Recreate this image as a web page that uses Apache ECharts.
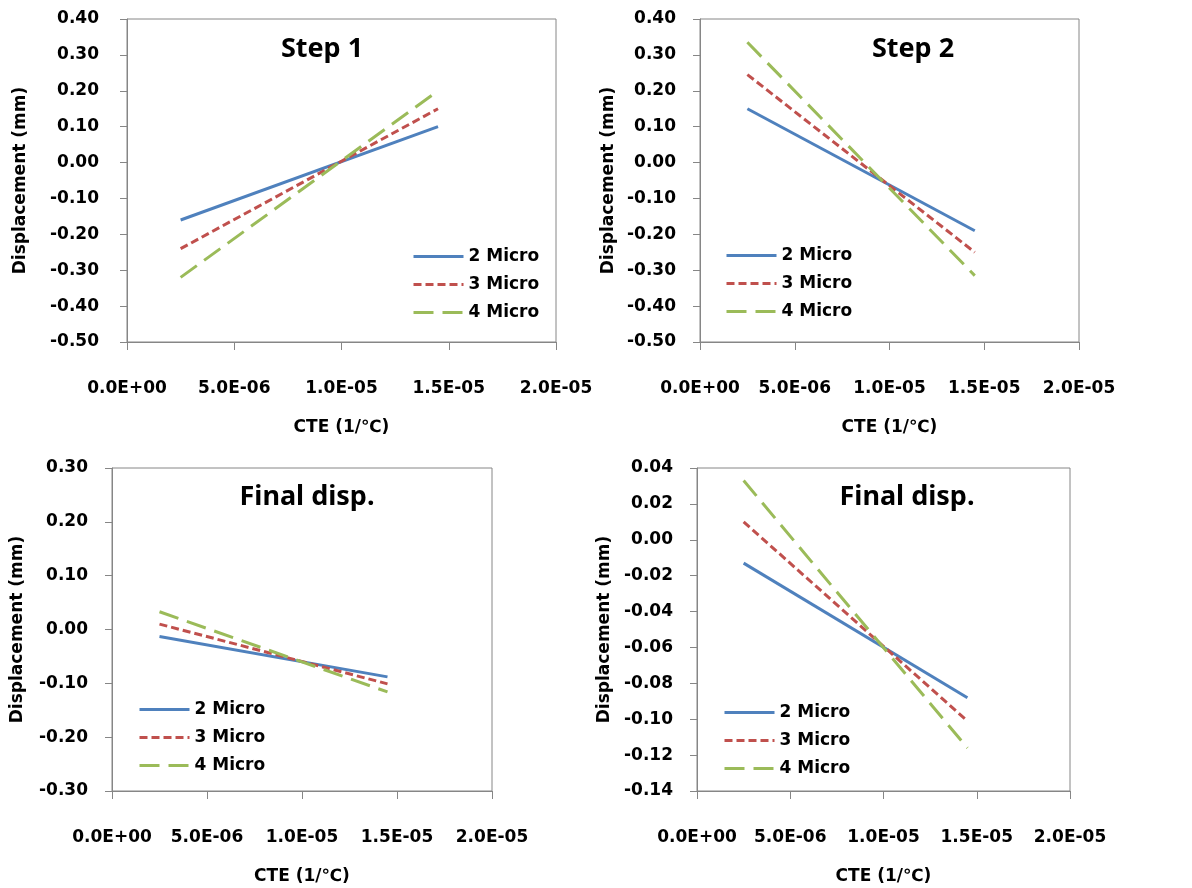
<!DOCTYPE html>
<html>
<head>
<meta charset="utf-8">
<script src="https://cdn.jsdelivr.net/npm/echarts@6/dist/echarts.min.js"></script>
<style>
  html, body { margin: 0; padding: 0; background: #fff; }
  #chart { width: 1192px; height: 888px; }
</style>
</head>
<body>
<div id="chart"></div>
<script>
// CTE values (1/°C) where each line was sampled
var cte = [2.5e-6, 1.45e-5];
var seriesNames = ['2 Micro', '3 Micro', '4 Micro'];

// Step 1 displacement (mm)
var step1Micro2 = [-0.16, 0.10];
var step1Micro3 = [-0.24, 0.15];
var step1Micro4 = [-0.32, 0.20];

// Step 2 displacement (mm)
var step2Micro2 = [0.15, -0.19];
var step2Micro3 = [0.245, -0.25];
var step2Micro4 = [0.335, -0.315];

// Final displacement (mm), shown twice with different y scales
var finalMicro2 = [-0.013, -0.088];
var finalMicro3 = [0.010, -0.101];
var finalMicro4 = [0.033, -0.116];

var panelTitles = ['Step 1', 'Step 2', 'Final disp.', 'Final disp.'];

var FONT = 'DejaVu Sans';
var TITLE_FONT = 'Noto Sans';
var colors = ['#4F81BD', '#C0504D', '#9BBB59'];
var dashes = ['solid', [8, 4], [20, 9]];

var grids = [
    { left: 127, top: 19, width: 429, height: 323 },
    { left: 700, top: 19, width: 379, height: 323 },
    { left: 112, top: 468, width: 380, height: 323 },
    { left: 697, top: 468, width: 373, height: 323 }
];
var yRanges = [
    { min: -0.5, max: 0.4, interval: 0.1, nameGap: 98, margin: 28 },
    { min: -0.5, max: 0.4, interval: 0.1, nameGap: 83, margin: 24 },
    { min: -0.3, max: 0.3, interval: 0.1, nameGap: 86, margin: 24 },
    { min: -0.14, max: 0.04, interval: 0.02, nameGap: 84, margin: 24 }
];
var titlePos = [[317, 31], [908, 31], [302, 479], [902, 479]];
var legendPos = [[407, 243], [720, 242], [133, 696], [718, 699]];

function sciLabel(v) {
    if (Math.abs(v) < 1e-12) return '0.0E+00';
    var s = v.toExponential(1).split('e');
    var exp = parseInt(s[1], 10);
    var sign = exp < 0 ? '-' : '+';
    var e = Math.abs(exp);
    return s[0] + 'E' + sign + (e < 10 ? '0' + e : e);
}

function pairs(vals) {
    return cte.map(function (x, i) { return [x, vals[i]]; });
}

var panelData = [
    [step1Micro2, step1Micro3, step1Micro4],
    [step2Micro2, step2Micro3, step2Micro4],
    [finalMicro2, finalMicro3, finalMicro4],
    [finalMicro2, finalMicro3, finalMicro4]
];

var axisColor = '#868686';
var xAxes = [], yAxes = [], series = [], titles = [], legends = [];
var labelText = { fontFamily: FONT, fontSize: 17, fontWeight: 'bold', color: '#000' };

grids.forEach(function (g, i) {
    g.show = true;
    g.borderColor = axisColor;
    g.borderWidth = 1;
    g.backgroundColor = '#fff';
    g.outerBoundsMode = 'none';

    xAxes.push({
        type: 'value', gridIndex: i,
        min: 0, max: 2e-5, interval: 5e-6,
        name: 'CTE (1/\u2103)', nameLocation: 'middle', nameGap: 77,
        nameTextStyle: labelText,
        axisLine: { show: true, onZero: false, lineStyle: { color: axisColor, width: 1 } },
        axisTick: { show: true, inside: false, length: 8, lineStyle: { color: axisColor } },
        axisLabel: Object.assign({ margin: 38, formatter: sciLabel,
                                   showMinLabel: true, showMaxLabel: true }, labelText),
        splitLine: { show: false }
    });
    var yr = yRanges[i];
    yAxes.push({
        type: 'value', gridIndex: i,
        min: yr.min, max: yr.max, interval: yr.interval,
        name: 'Displacement (mm)', nameLocation: 'middle', nameRotate: 90, nameGap: yr.nameGap,
        nameTextStyle: labelText,
        axisLine: { show: true, onZero: false, lineStyle: { color: axisColor, width: 1 } },
        axisTick: { show: true, inside: false, length: 7, lineStyle: { color: axisColor } },
        axisLabel: Object.assign({ margin: yr.margin,
                                   formatter: function (v) { return v.toFixed(2); } }, labelText),
        splitLine: { show: false }
    });

    panelData[i].forEach(function (vals, k) {
        series.push({
            name: seriesNames[k], type: 'line',
            xAxisIndex: i, yAxisIndex: i,
            data: pairs(vals),
            symbol: 'none', silent: true, animation: false,
            lineStyle: { color: colors[k], width: 3, type: dashes[k], cap: 'butt' },
            itemStyle: { color: colors[k] }
        });
    });

    titles.push({
        text: panelTitles[i],
        left: titlePos[i][0], top: titlePos[i][1], textAlign: 'center',
        textStyle: { fontFamily: TITLE_FONT, fontSize: 27, fontWeight: 'bold', color: '#000' }
    });

    legends.push({
        data: seriesNames,
        orient: 'vertical',
        left: legendPos[i][0], top: legendPos[i][1],
        itemWidth: 50, itemHeight: 14, itemGap: 11,
        selectedMode: false,
        itemStyle: { opacity: 0 },
        lineStyle: { width: 3 },
        textStyle: labelText
    });
});

var chart = echarts.init(document.getElementById('chart'));
chart.setOption({
    animation: false,
    backgroundColor: '#fff',
    title: titles,
    legend: legends,
    grid: grids,
    xAxis: xAxes,
    yAxis: yAxes,
    series: series
});
</script>
</body>
</html>
